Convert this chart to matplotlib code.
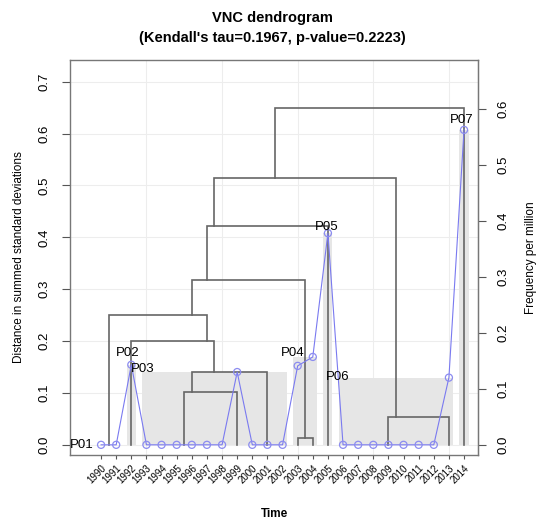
import matplotlib
matplotlib.use("Agg")
import matplotlib.pyplot as plt
import numpy as np

plt.rcParams['font.family'] = ['Liberation Sans', 'DejaVu Sans']

# time points and frequency per million (right axis)
years = [str(y) for y in range(1990, 2015)]
freq = [0, 0, 0.143, 0, 0, 0, 0, 0, 0, 0.130, 0, 0, 0,
        0.141, 0.157, 0.378, 0, 0, 0, 0, 0, 0, 0, 0.120, 0.5625]

# periods found by VNC (1-based first / last time point)
period_labels = ['P01', 'P02', 'P03', 'P04', 'P05', 'P06', 'P07']
period_first = [1, 3, 4, 14, 16, 17, 25]
period_last = [2, 3, 13, 15, 16, 24, 25]

# dendrogram merges: (left range, right range, height in summed sd)
merges = [
    ((4, 9), (10, 10), 0.102),
    ((4, 10), (11, 13), 0.141),
    ((3, 3), (4, 13), 0.200),
    ((1, 2), (3, 13), 0.250),
    ((14, 14), (15, 15), 0.013),
    ((1, 13), (14, 15), 0.318),
    ((1, 15), (16, 16), 0.422),
    ((17, 23), (24, 24), 0.054),
    ((1, 16), (17, 24), 0.514),
    ((1, 24), (25, 25), 0.649),
]

# label offsets in pixels (placement only)
label_offsets = [(-19, 0), (-4, 12), (-4, 3), (-5, 4), (-1, 6), (-5, 1), (-2, 10)]

left_lim = (-0.0193, 0.742)
right_lim = (-0.0179, 0.6875)
k = left_lim[1] / right_lim[1]   # right axis -> left axis units

fig = plt.figure(figsize=(5.39, 5.21), dpi=100)
ax = fig.add_axes([0.130, 0.127, 0.757, 0.758])

x = np.arange(1, len(freq) + 1)
fv = np.array(freq) * k

ax.set_xlim(-1.05, 25.93)
ax.set_ylim(*left_lim)

# faint grid
for gx in [4, 9, 14, 19, 24]:
    ax.axvline(gx, color='#ededed', lw=0.8, zorder=0)
for gy in np.arange(0, 0.71, 0.1):
    ax.axhline(gy, color='#ededed', lw=0.8, zorder=0)

# period rectangles
for f, l in zip(period_first, period_last):
    top = max(fv[f - 1:l])
    ax.fill_between([f - 0.3, l + 0.3], 0, top, color='#e6e6e6', lw=0, zorder=1)


def pos(r):
    return (r[0] + r[1]) / 2.0


def height_of(r):
    for a, b, h in merges:
        if (a[0], b[1]) == r:
            return h
    return 0.0


# dendrogram
dcol = '#666666'
for a, b, h in merges:
    xa, xb = pos(a), pos(b)
    ax.plot([xa, xa, xb, xb], [height_of(a), h, h, height_of(b)],
            color=dcol, lw=1.2, zorder=2, solid_joinstyle='miter')

# frequency series
ax.plot(x, fv, color='#7a7af0', lw=0.8, zorder=3)
ax.scatter(x, fv, s=26, facecolors='none', edgecolors='#8c8cf0', linewidths=0.9, zorder=4)

# period labels
for lab, f, l, off in zip(period_labels, period_first, period_last, label_offsets):
    top = max(fv[f - 1:l])
    ax.annotate(lab, (f, top), xytext=off, textcoords='offset pixels',
                ha='center', va='center', fontsize=9.5, color='black', zorder=5)

# axes
ax.set_yticks(np.arange(0, 0.71, 0.1))
ax.set_yticklabels(['%.1f' % v for v in np.arange(0, 0.71, 0.1)],
                   rotation=90, va='center', fontsize=9.5)
ax.set_xticks(x)
ax.set_xticklabels(years, rotation=45, ha='right', va='top',
                   rotation_mode='anchor', fontsize=7)
ax.tick_params(axis='y', direction='out', length=6, width=0.8, color='#555555', pad=8)
ax.tick_params(axis='x', direction='out', length=3, width=0.8, color='#555555', pad=3)
for s in ax.spines.values():
    s.set_color('#777777')
    s.set_linewidth(1.0)

sec = ax.secondary_yaxis('right', functions=(lambda d: d / k, lambda v: v * k))
sec.set_yticks(np.arange(0, 0.61, 0.1))
sec.set_yticklabels(['%.1f' % v for v in np.arange(0, 0.61, 0.1)],
                    rotation=90, va='center', fontsize=9.5)
sec.tick_params(direction='out', length=6, width=0.8, color='#555555', pad=8)
sec.spines['right'].set_color('#777777')
sec.set_ylabel('Frequency per million', fontsize=8.5, rotation=90, labelpad=11)

ax.set_ylabel('Distance in summed standard deviations', fontsize=8.5, labelpad=10)
ax.set_xlabel('Time', fontsize=8.5, fontweight='bold', labelpad=16)

fig.text(0.505, 0.965, 'VNC dendrogram', ha='center', va='center',
         fontsize=10.5, fontweight='bold')
fig.text(0.505, 0.928, "(Kendall's tau=0.1967, p-value=0.2223)", ha='center', va='center',
         fontsize=10.5, fontweight='bold')

plt.savefig('out.png', dpi=100)
